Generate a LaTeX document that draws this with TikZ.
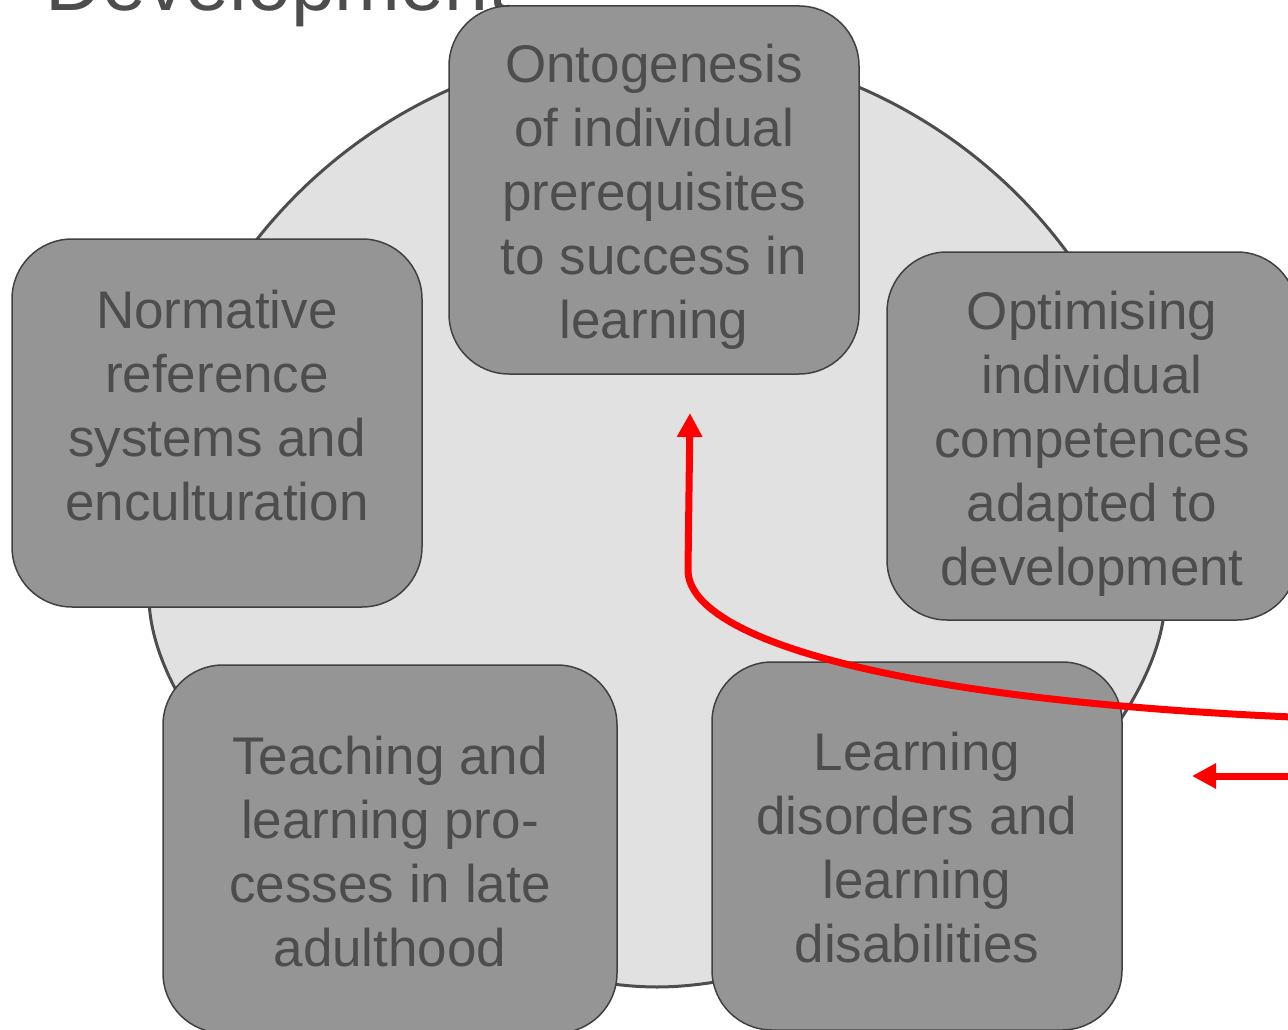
\documentclass[tikz,border=0pt]{standalone}
\usepackage{fontspec}
\setmainfont{Liberation Sans}
\usetikzlibrary{arrows.meta}
\definecolor{boxfill}{RGB}{149,149,149}
\definecolor{boxline}{RGB}{64,64,64}
\definecolor{txt}{RGB}{77,77,77}
\definecolor{bgfill}{RGB}{225,225,225}
\definecolor{bgline}{RGB}{77,77,77}
\tikzset{
  box/.style={draw=boxline, fill=boxfill, line width=1.5pt, rounded corners=60pt,
    minimum height=368pt, minimum width=410pt, inner sep=0pt},
  boxtext/.style={text=txt, align=center, inner sep=0pt,
    font=\fontsize{53}{64}\selectfont},
  titletext/.style={text=txt, inner sep=0pt, font=\fontsize{79}{90}\selectfont},
  redarrow/.style={draw=red, line width=7pt, -{Triangle[length=24pt,width=24pt]}},
}
\begin{document}
\begin{tikzpicture}[x=1pt,y=-1pt]
\useasboundingbox (0,0) rectangle (1288,1030);
\node[titletext, anchor=base west] (title) at (45,11) {Development};
% background shape
\path[draw=bgline, fill=bgfill, line width=3pt]
  (149,600) arc[start angle=185, end angle=-5, radius=510pt]
  .. controls (1160,760) and (880,986) .. (657,987)
  .. controls (434,986) and (154,760) .. cycle;
% boxes
\node[box] (b1) at (654,190) {};
\node[box] (b2) at (217,423) {};
\node[box] (b3) at (1092,436) {};
\node[box, minimum width=454pt] (b4) at (390,849) {};
\node[box] (b5) at (917,846) {};
\node[boxtext] (t1) at (654,197) {Ontogenesis\\of individual\\prerequisites\\to success in\\learning};
\node[boxtext] (t2) at (217,406) {Normative\\reference\\systems and\\enculturation};
\node[boxtext] (t3) at (1092,444) {Optimising\\individual\\competences\\adapted to\\development};
\node[boxtext] (t4) at (390,852) {Teaching and\\learning pro-\\cesses in late\\adulthood};
\node[boxtext] (t5) at (917,848) {Learning\\disorders and\\learning\\disabilities};
% red arrows
\coordinate (s1) at (1292,717);
\coordinate (k1) at (688,570);
\coordinate (e1) at (690,413);
\coordinate (s2) at (1292,776);
\coordinate (e2) at (1192,776);
\draw[redarrow] (s1) .. controls (900,700) and (688,640) .. (k1) -- (e1);
\draw[redarrow] (s2) -- (e2);
\end{tikzpicture}
\end{document}
